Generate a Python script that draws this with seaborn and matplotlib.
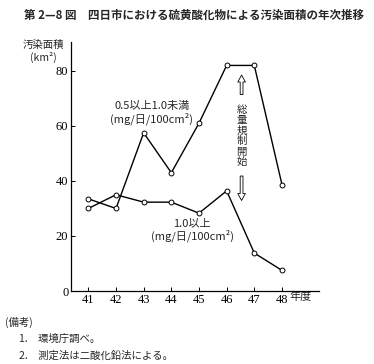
import matplotlib
matplotlib.use('Agg')
import matplotlib.pyplot as plt
import pandas as pd
import seaborn as sns

years = [41, 42, 43, 44, 45, 46, 47, 48]
band_05_10 = [33.5, 30.0, 57.5, 43.0, 61.0, 82.0, 82.0, 38.7]
band_10_up = [30.0, 35.0, 32.3, 32.3, 28.3, 36.4, 13.8, 7.5]
y_ticks = [0, 20, 40, 60, 80]

title = '第 2—8 図　四日市における硫黄酸化物による汚染面積の年次推移'
label_05 = '0.5以上1.0未満\n(mg/日/100cm²)'
label_10 = '1.0以上\n(mg/日/100cm²)'
vertical_note = '総量規制開始'
notes = ['(備考)', '1.　環境庁調べ。', '2.　測定法は二酸化鉛法による。']

df = pd.DataFrame({'year': years * 2,
                   'area': band_05_10 + band_10_up,
                   'band': ['0.5-1.0'] * len(years) + ['1.0+'] * len(years)})

sns.set_style('ticks')
plt.rcParams['font.family'] = ['Noto Sans CJK JP', 'DejaVu Sans']

fig = plt.figure(figsize=(3.74, 3.64), dpi=100)
ax = fig.add_axes([0.19, 0.2005, 0.663, 0.684])

sns.lineplot(data=df, x='year', y='area', hue='band', palette=['black', 'black'],
             marker='o', markersize=3.5, markerfacecolor='white', markeredgecolor='black',
             markeredgewidth=0.7, linewidth=1.0, legend=False, ax=ax)

ax.set_xlim(40.375, 49.34)
ax.set_ylim(0, 90.5)
ax.set_xticks(years)
ax.set_xticklabels([str(y) for y in years])
ax.set_yticks(y_ticks)
ax.tick_params(direction='in', length=3, width=0.7, labelsize=9, pad=2, colors='black')
for lab in ax.get_xticklabels() + ax.get_yticklabels():
    lab.set_family('Liberation Serif')
ax.set_xlabel('')
ax.set_ylabel('')
sns.despine(ax=ax)
for s in ['left', 'bottom']:
    ax.spines[s].set_linewidth(0.9)
    ax.spines[s].set_color('black')

fig.text(0.52, 0.958, title, ha='center', va='center', fontsize=8.3, fontweight='bold')
fig.text(0.115, 0.876, '汚染面積', ha='center', va='center', fontsize=7.5)
fig.text(0.115, 0.843, '(km²)', ha='center', va='center', fontsize=7.5)
fig.text(0.775, 0.184, '年度', ha='left', va='center', fontsize=8)

ax.text(43.3, 64.8, label_05, ha='center', va='center', fontsize=8, linespacing=1.1)
ax.text(44.75, 22, label_10, ha='center', va='center', fontsize=8, linespacing=1.1)

ax.text(46.54, 56.3, '\n'.join(vertical_note), ha='center', va='center', fontsize=7.5,
        linespacing=1.05)
arrow = dict(arrowstyle='simple,head_width=0.55,head_length=0.5,tail_width=0.2',
             fc='white', ec='black', lw=0.6)
ax.annotate('', xy=(46.54, 79.5), xytext=(46.54, 70.4), arrowprops=arrow)
ax.annotate('', xy=(46.54, 31.9), xytext=(46.54, 42.8), arrowprops=arrow)

fig.text(0.013, 0.115, notes[0], ha='left', va='center', fontsize=7.5)
fig.text(0.05, 0.068, notes[1], ha='left', va='center', fontsize=7.5)
fig.text(0.05, 0.022, notes[2], ha='left', va='center', fontsize=7.5)

fig.savefig('out.png', dpi=100)
